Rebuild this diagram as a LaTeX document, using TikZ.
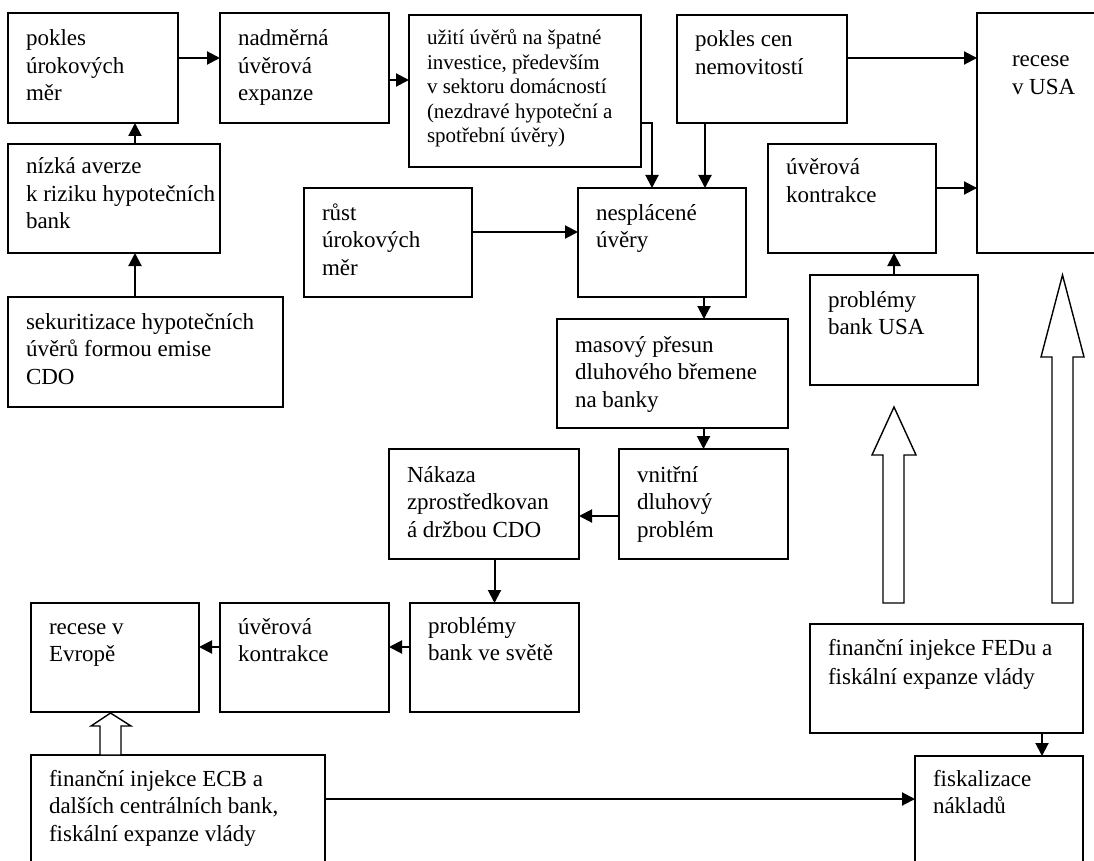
\documentclass[tikz,border=0pt]{standalone}
\usepackage{fontspec}
\setmainfont{Liberation Serif}
\usetikzlibrary{arrows.meta,calc}
\tikzset{
 boxfont/.style={font=\fontsize{23}{27.5}\selectfont},
 box/.style={draw, line width=1.4pt, anchor=north west, inner xsep=18pt, inner ysep=0pt, outer sep=0pt, boxfont},
 arr/.style={line width=2pt, -{Triangle[length=13pt,width=13pt]}},
 blk/.style={draw, fill=white, line width=1.4pt, line join=miter}
}
\newcommand\bx[7][32]{\node[box] (#2) at (#3,#4) {\parbox[t][\dimexpr #6pt-#4pt\relax][t]{\dimexpr #5pt-#3pt-36pt\relax}{\begin{tabular}[t]{@{}l@{}}\rule{0pt}{#1pt}#7\end{tabular}}};}
\begin{document}
\begin{tikzpicture}[x=1pt,y=-1pt]
\useasboundingbox (0,0) rectangle (1094,861);
\fill[white] (0,0) rectangle (1094,861);
\clip (0,0) rectangle (1094,861);

\bx[33]{pokles}{8}{13}{178}{123}{pokles\\úrokových\\měr}
\bx[33]{nadm}{220}{13}{389}{123}{nadměrná\\úvěrová\\expanze}
\begin{scope}[boxfont/.style={font=\fontsize{21}{24.5}\selectfont}]
\bx[30]{uziti}{409}{15}{641}{167}{užití úvěrů na špatné\\investice, především\\v sektoru domácností\\(nezdravé hypoteční a\\spotřební úvěry)}
\end{scope}
\bx{pokcen}{677}{15}{847}{123}{pokles cen\\nemovitostí}
\bx[54]{recusa}{977}{13}{1147}{253}{\hspace*{17pt}recese\\\hspace*{17pt}v USA}
\bx[30]{nizka}{8}{144}{220}{253}{nízká averze\\k riziku hypotečních\\bank}
\bx[31]{uvusa}{768}{144}{936}{253}{úvěrová\\kontrakce}
\bx{rust}{304}{188}{472}{297}{růst\\úrokových\\měr}
\bx{nespl}{578}{188}{746}{297}{nesplácené\\úvěry}
\bx{sekur}{8}{297}{283}{407}{sekuritizace hypotečních\\úvěrů formou emise\\CDO}
\bx{probusa}{810}{275}{978}{385}{problémy\\bank USA}
\bx[33]{masovy}{557}{319}{788}{428}{masový přesun\\dluhového břemene\\na banky}
\bx[33]{nakaza}{389}{449}{579}{559}{Nákaza\\zprostředkovan\\á držbou CDO}
\bx[33]{vnitrni}{619}{449}{788}{559}{vnitřní\\dluhový\\problém}
\bx[31]{receu}{31}{603}{199}{712}{recese v\\Evropě}
\bx[31]{uveu}{220}{603}{389}{712}{úvěrová\\kontrakce}
\bx[30]{probsvet}{410}{603}{579}{712}{problémy\\bank ve světě}
\bx[31]{fed}{810}{624}{1083}{733}{finanční injekce FEDu a\\[1.5pt]fiskální expanze vlády}
\bx[31]{ecb}{31}{755}{325}{866}{finanční injekce ECB a\\dalších centrálních bank,\\fiskální expanze vlády}
\bx[30]{fisk}{915}{756}{1083}{866}{fiskalizace\\nákladů}

\coordinate (a1) at ([yshift=10pt]pokles.east);
\draw[arr] (a1) -- (a1 -| nadm.west);
\coordinate (a2) at ([yshift=-12pt]nadm.east);
\draw[arr] (a2) -- (a2 -| uziti.west);
\coordinate (a3) at ([yshift=-32pt]uziti.east);
\coordinate (a3b) at ([xshift=-10pt]nespl.north);
\draw[arr] (a3) -| (a3b);
\coordinate (a4) at ([xshift=43pt]nespl.north);
\draw[arr] (a4 |- pokcen.south) -- (a4);
\coordinate (a5) at ([yshift=11pt]pokcen.east);
\draw[arr] (a5) -- (a5 -| recusa.west);
\coordinate (a6) at ([yshift=10.5pt]uvusa.east);
\draw[arr] (a6) -- (a6 -| recusa.west);
\draw[arr] (probusa.north) -- (probusa.north |- uvusa.south);
\coordinate (a7) at ([yshift=10.5pt]rust.east);
\draw[arr] (a7) -- (a7 -| nespl.west);
\coordinate (a8) at ([xshift=42pt]nespl.south);
\draw[arr] (a8) -- (a8 |- masovy.north);
\draw[arr] (vnitrni.north |- masovy.south) -- (vnitrni.north);
\coordinate (a9) at ([yshift=-12pt]vnitrni.west);
\draw[arr] (a9) -- (a9 -| nakaza.east);
\draw[arr] (probsvet.north |- nakaza.south) -- (probsvet.north);
\coordinate (a10) at ([yshift=10.5pt]probsvet.west);
\draw[arr] (a10) -- (a10 -| uveu.east);
\draw[arr] (a10 -| uveu.west) -- (a10 -| receu.east);
\coordinate (a11) at ([xshift=43pt]fisk.north);
\draw[arr] (a11 |- fed.south) -- (a11);
\coordinate (a12) at ([yshift=12pt]fisk.west);
\draw[arr] (a12 -| ecb.east) -- (a12);
\coordinate (a13) at ([xshift=21pt]nizka.south);
\draw[arr] (a13 |- sekur.north) -- (a13);
\coordinate (a14) at ([xshift=21pt]nizka.north);
\draw[arr] (a14) -- (a14 |- pokles.south);

% block arrows
\draw[blk] (100,755) -- (100,726) -- (91,726) -- (110.5,713) -- (131,726) -- (121,726) -- (121,755) -- cycle;
\draw[blk] (883,603) -- (883,455) -- (872,455) -- (894,407) -- (916,455) -- (904,455) -- (904,603) -- cycle;
\draw[blk] (1052,603) -- (1052,357) -- (1041,357) -- (1062.5,275) -- (1084,357) -- (1073,357) -- (1073,603) -- cycle;
\end{tikzpicture}
\end{document}
